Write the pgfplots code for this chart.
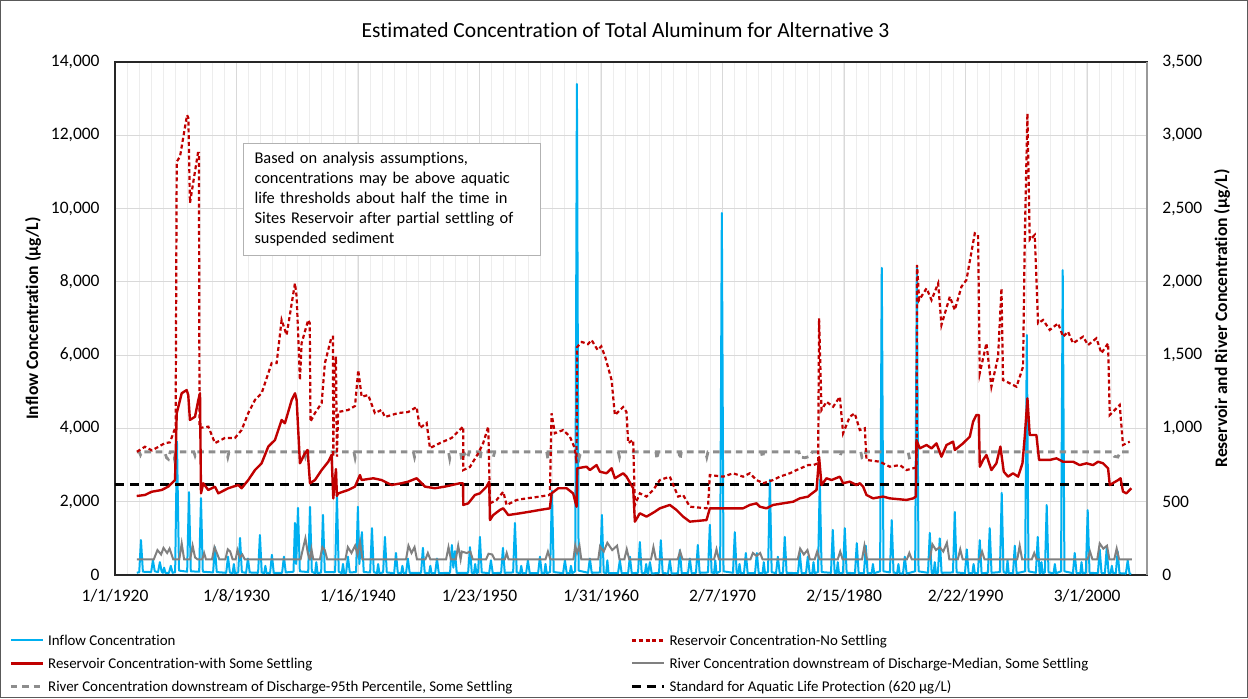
\documentclass[border=0pt]{standalone}
\usepackage{pgfplots}
\pgfplotsset{compat=1.18}
\usepackage{pgfplotstable}
\usepackage{fontspec}
\setmainfont{Carlito}[Ligatures={NoCommon}]
\definecolor{inflowc}{HTML}{00B0F0}
\definecolor{resred}{HTML}{C00000}
\definecolor{rivgray}{HTML}{808080}
\definecolor{gridmaj}{HTML}{D9D9D9}
\definecolor{gridmin}{HTML}{EDEDED}
\tikzset{
  inflowst/.style={inflowc, line width=1pt, line join=round},
  nosetst/.style={resred, line width=1.1pt, dash pattern=on 2pt off 1.4pt},
  setst/.style={resred, line width=1.2pt, line join=round},
  medst/.style={rivgray, line width=1pt},
  p95st/.style={rivgray!90, line width=1.4pt, dash pattern=on 3.3pt off 2.4pt},
  stdst/.style={black, line width=1.6pt, dash pattern=on 4.5pt off 3pt},
}

\pgfplotstableread{
x y
1921.8 60
1922.0 80
1922.14 955
1922.3 90
1922.98 80
1923.13 400
1923.28 100
1923.55 80
1923.7 350
1923.85 90
1923.95 60
1924.05 200
1924.15 60
1924.45 60
1924.6 250
1924.75 60
1924.96 80
1925.11 3650
1925.28 120
1925.95 90
1926.1 2260
1926.25 100
1926.94 90
1927.09 2100
1927.24 90
1928.09 70
1928.24 760
1928.39 80
1929.17 60
1929.32 500
1929.47 70
1929.7 50
1929.8 300
1929.9 50
1930.16 70
1930.31 1010
1930.46 80
1930.81 60
1930.96 450
1931.11 70
1931.8 60
1931.95 1090
1932.1 70
1932.3 50
1932.4 250
1932.5 50
1932.79 60
1932.94 550
1933.09 60
1933.78 60
1933.93 500
1934.08 70
1934.72 90
1934.84 1420
1934.94 300
1935.09 1830
1935.24 100
1935.93 80
1936.08 1860
1936.23 90
1936.5 50
1936.6 350
1936.7 50
1937.0 70
1937.15 1640
1937.3 80
1938.15 80
1938.3 2200
1938.45 90
1938.7 50
1938.8 300
1938.9 50
1939.06 60
1939.21 500
1939.36 70
1939.88 80
1940.03 1860
1940.15 300
1940.36 1170
1940.51 80
1941.04 70
1941.19 1280
1941.34 80
1941.6 50
1941.7 300
1941.8 50
1942.11 70
1942.26 1040
1942.41 70
1943.02 50
1943.17 600
1943.32 60
1943.6 50
1943.7 250
1943.8 50
1944.0 50
1944.15 450
1944.3 60
1945.24 60
1945.39 740
1945.54 60
1945.9 50
1946.0 250
1946.1 50
1946.4 50
1946.55 450
1946.7 50
1947.63 60
1947.78 820
1947.9 200
1948.03 650
1948.18 60
1949.12 60
1949.27 760
1949.42 60
1949.6 50
1949.7 300
1949.8 50
1949.94 70
1950.09 1040
1950.24 70
1950.85 50
1951.0 400
1951.15 50
1951.84 60
1951.99 740
1952.14 60
1952.83 70
1952.98 1420
1953.13 70
1953.4 50
1953.5 250
1953.6 50
1953.9 50
1954.05 400
1954.2 50
1954.89 50
1955.04 500
1955.19 50
1955.4 50
1955.5 300
1955.6 50
1955.88 80
1956.03 2300
1956.18 80
1956.95 50
1957.1 400
1957.25 50
1957.5 50
1957.6 250
1957.7 50
1957.95 100
1958.09 13400
1958.23 120
1959.01 60
1959.16 450
1959.31 60
1960.0 70
1960.15 1640
1960.3 70
1960.5 50
1960.6 400
1960.7 50
1961.48 50
1961.63 400
1961.78 50
1962.31 50
1962.46 500
1962.61 50
1963.13 60
1963.28 900
1963.43 60
1963.7 50
1963.8 300
1963.9 50
1963.96 40
1964.11 350
1964.26 40
1964.86 60
1965.01 950
1965.16 60
1965.6 40
1965.75 400
1965.9 40
1966.43 50
1966.58 680
1966.73 50
1967.25 50
1967.4 450
1967.55 50
1967.91 60
1968.06 820
1968.21 60
1968.9 70
1969.05 1370
1969.2 70
1969.4 50
1969.5 400
1969.6 50
1969.9 100
1970.04 9880
1970.18 100
1970.96 60
1971.11 1170
1971.26 60
1971.4 50
1971.5 300
1971.6 50
1971.87 50
1972.02 600
1972.17 50
1972.78 50
1972.93 600
1973.08 50
1973.4 50
1973.5 350
1973.6 50
1973.85 80
1974.0 2600
1974.15 80
1974.51 50
1974.66 500
1974.81 50
1975.08 60
1975.23 1040
1975.38 60
1976.32 50
1976.47 600
1976.62 50
1976.98 50
1977.13 500
1977.28 50
1977.5 50
1977.6 350
1977.7 50
1977.97 80
1978.12 2600
1978.27 80
1979.04 60
1979.19 1230
1979.34 60
1979.5 50
1979.6 350
1979.7 50
1980.03 60
1980.18 1280
1980.33 60
1981.02 50
1981.17 870
1981.32 50
1981.76 50
1981.91 800
1982.06 50
1982.4 50
1982.5 300
1982.6 50
1983.09 100
1983.23 8380
1983.37 100
1983.9 70
1984.05 1500
1984.2 70
1984.5 50
1984.6 300
1984.7 50
1984.98 40
1985.13 500
1985.28 40
1985.98 100
1986.12 8400
1986.26 100
1987.04 60
1987.19 1150
1987.34 60
1987.5 50
1987.6 350
1987.7 50
1987.86 60
1988.01 1000
1988.16 60
1989.1 70
1989.25 1720
1989.4 70
1990.09 50
1990.24 700
1990.39 50
1990.7 50
1990.8 300
1990.9 50
1991.16 50
1991.31 950
1991.46 50
1991.98 60
1992.13 1280
1992.28 60
1992.97 80
1993.12 2240
1993.27 80
1993.5 50
1993.6 400
1993.7 50
1994.05 50
1994.2 800
1994.35 50
1995.05 100
1995.19 6550
1995.33 100
1995.94 60
1996.09 1040
1996.24 60
1996.3 50
1996.4 350
1996.5 50
1996.68 70
1996.83 1910
1996.98 70
1997.4 50
1997.5 300
1997.6 50
1998.01 100
1998.15 8320
1998.29 100
1998.99 50
1999.14 600
1999.29 50
1999.6 50
1999.7 350
1999.8 50
2000.06 60
2000.21 1770
2000.36 60
2001.05 50
2001.2 700
2001.35 50
2001.63 50
2001.78 750
2001.93 50
2002.1 50
2002.2 250
2002.3 50
2002.53 50
2002.68 650
2002.83 50
2003.36 40
2003.51 400
2003.66 40
2003.8 30
}\inflowdata

\pgfplotstableread{
x y
1921.81 841
1922.47 875
1923.05 850
1924.12 900
1924.53 905
1925.0 1012
1925.09 2820
1925.36 2854
1925.94 3138
1926.05 3120
1926.18 2538
1926.84 2879
1926.92 2879
1926.97 1003
1927.7 1012
1928.24 900
1929.07 935
1929.89 935
1930.44 989
1930.99 1105
1931.54 1194
1932.09 1240
1932.92 1446
1933.33 1446
1933.74 1740
1934.15 1637
1934.84 1990
1934.98 1899
1935.25 1330
1935.39 1582
1935.93 1740
1936.06 1719
1936.12 1046
1936.49 1105
1937.04 1173
1937.31 1446
1937.86 1626
1937.97 1626
1938.0 807
1938.1 1400
1938.22 1489
1938.3 807
1938.4 1112
1939.23 1126
1939.79 1153
1940.06 1398
1940.34 1216
1940.88 1228
1941.43 1105
1941.98 1126
1942.26 1078
1943.36 1105
1944.18 1112
1944.87 1146
1945.14 1003
1945.7 1037
1945.97 866
1946.79 900
1947.76 935
1948.3 980
1948.71 1012
1948.72 716
1949.27 737
1949.95 830
1950.36 900
1950.78 1012
1950.92 489
1951.47 512
1952.02 568
1952.29 477
1953.12 512
1953.94 523
1955.04 535
1955.86 546
1956.0 1103
1956.27 967
1956.96 989
1957.51 944
1957.92 864
1958.06 762
1958.1 1555
1958.5 1590
1959.0 1575
1959.3 1603
1959.8 1535
1960.1 1560
1960.45 1480
1960.95 1330
1961.22 1091
1961.9 1146
1962.18 1112
1962.32 900
1962.73 921
1962.87 477
1963.28 557
1963.83 535
1964.38 580
1964.93 648
1965.75 671
1966.44 535
1966.85 546
1967.4 466
1968.78 455
1968.91 477
1969.05 682
1970.15 671
1970.97 694
1971.8 671
1972.35 694
1972.9 648
1973.45 626
1974.27 648
1974.82 671
1975.65 694
1976.2 716
1977.16 750
1977.57 750
1977.98 762
1978.06 1751
1978.26 1126
1978.67 1182
1979.22 1148
1979.77 1216
1980.04 967
1980.59 1080
1981.0 1103
1981.42 989
1981.83 1001
1981.97 785
1983.07 773
1983.89 739
1984.72 750
1985.27 716
1985.82 728
1986.1 735
1986.14 2115
1986.31 1876
1986.92 1956
1987.33 1876
1987.88 1990
1988.15 1706
1988.84 1899
1989.25 1808
1989.8 1967
1990.21 2013
1990.9 2331
1991.17 2320
1991.31 1376
1991.86 1581
1992.27 1285
1992.82 1489
1993.1 1956
1993.23 1330
1993.78 1308
1994.34 1285
1994.88 1421
1995.02 2286
1995.24 3150
1995.43 2286
1995.84 2320
1996.12 1717
1996.53 1740
1997.08 1672
1997.77 1717
1998.18 1626
1998.59 1660
1999.0 1581
1999.83 1626
2000.24 1569
2000.93 1615
2001.34 1513
2001.89 1581
2002.03 1092
2002.85 1160
2003.12 887
2003.68 910
}\nosetdata

\pgfplotstableread{
x y
1921.79 539
1922.47 546
1923.02 568
1923.85 580
1924.39 603
1924.95 648
1925.09 1103
1925.5 1240
1925.91 1262
1926.04 1228
1926.18 1058
1926.6 1080
1926.87 1194
1927.01 1240
1927.09 557
1927.28 626
1927.69 580
1928.24 603
1928.52 557
1929.34 592
1930.17 614
1930.44 592
1930.99 648
1931.54 716
1932.09 762
1932.64 876
1933.19 921
1933.74 1058
1934.01 1035
1934.57 1194
1934.84 1240
1934.98 1194
1935.25 762
1935.66 830
1935.88 853
1936.08 626
1936.49 648
1937.04 716
1937.59 773
1937.86 819
1938.0 523
1938.22 723
1938.3 540
1938.41 557
1939.23 580
1939.79 603
1940.2 682
1940.34 648
1941.3 660
1941.98 648
1942.8 614
1943.63 626
1944.18 637
1944.87 660
1945.56 603
1946.38 592
1947.2 603
1948.44 626
1948.7 626
1948.72 478
1949.13 489
1949.68 546
1950.09 557
1950.64 603
1950.86 637
1950.92 375
1951.19 409
1951.74 444
1952.02 455
1952.43 409
1953.39 421
1954.21 432
1955.04 444
1955.86 455
1956.0 557
1956.55 592
1957.24 592
1957.78 557
1958.06 466
1958.11 728
1958.88 739
1959.16 716
1959.71 750
1959.98 705
1960.53 694
1960.95 728
1961.22 660
1961.9 694
1962.18 671
1962.73 592
1962.87 364
1963.28 421
1963.83 398
1964.52 432
1964.93 455
1965.75 478
1966.3 444
1966.85 398
1967.4 364
1968.78 375
1969.05 455
1971.8 455
1972.35 478
1972.9 489
1973.17 466
1973.72 455
1974.27 478
1975.09 489
1975.92 500
1976.47 523
1977.16 535
1977.3 546
1977.85 580
1978.06 805
1978.26 614
1978.67 660
1979.09 648
1979.77 671
1980.04 626
1980.59 637
1981.14 614
1981.42 626
1981.69 603
1981.97 546
1982.51 523
1983.34 535
1983.89 523
1985.27 512
1985.82 523
1986.04 535
1986.09 921
1986.36 864
1986.92 887
1987.33 864
1987.74 898
1988.15 807
1988.57 887
1989.11 910
1989.25 853
1989.93 898
1990.21 921
1990.49 944
1990.76 1046
1991.03 1092
1991.23 1092
1991.31 739
1991.58 785
1991.86 819
1992.27 716
1992.68 762
1993.01 876
1993.29 705
1993.64 671
1994.05 694
1994.47 671
1994.83 762
1995.02 944
1995.24 1205
1995.43 955
1995.98 955
1996.2 785
1997.08 785
1997.63 796
1998.18 773
1999.0 773
1999.55 750
2000.11 762
2000.65 750
2001.06 773
2001.48 762
2001.89 728
2002.03 614
2002.72 648
2002.92 660
2003.12 569
2003.4 557
2003.81 592
}\setdata

\pgfplotstableread{
x y
1921.8 107
1923.2 107
1923.5 170
1923.8 140
1924.0 185
1924.3 150
1924.5 180
1924.8 107
1925.3 107
1925.5 215
1925.7 107
1926.2 107
1926.4 200
1926.6 120
1926.8 107
1927.2 107
1927.35 150
1927.5 107
1928.0 107
1928.2 190
1928.4 150
1928.6 107
1929.1 107
1929.3 175
1929.5 160
1929.7 107
1929.95 107
1930.1 170
1930.3 120
1930.5 140
1930.7 107
1935.3 107
1935.5 180
1935.7 250
1935.9 150
1936.05 107
1936.1 107
1936.2 175
1936.35 107
1936.9 107
1937.1 190
1937.3 170
1937.5 107
1939.0 107
1939.2 190
1939.5 150
1939.8 200
1940.0 140
1940.2 230
1940.4 107
1944.0 107
1944.2 200
1944.45 150
1944.7 190
1944.9 107
1945.6 107
1945.8 150
1946.0 107
1947.3 107
1947.5 190
1947.7 107
1948.1 107
1948.3 200
1948.5 107
1948.6 160
1949.0 150
1949.3 160
1949.5 107
1950.6 107
1950.8 145
1951.1 140
1951.3 107
1952.15 107
1952.3 150
1952.45 107
1955.5 107
1955.7 160
1955.9 107
1957.8 107
1957.95 200
1958.1 150
1958.3 200
1958.45 107
1959.85 107
1960.0 195
1960.3 160
1960.6 220
1961.0 170
1961.4 200
1961.6 107
1962.0 107
1962.2 175
1962.4 107
1964.2 107
1964.4 190
1964.6 107
1966.4 107
1966.6 160
1966.8 107
1969.4 107
1969.6 175
1969.8 107
1972.4 107
1972.6 150
1972.9 130
1973.2 150
1973.4 107
1976.3 107
1976.5 180
1976.8 140
1977.1 170
1977.3 107
1977.7 107
1977.9 160
1978.1 107
1979.6 107
1979.8 160
1980.0 107
1981.6 107
1981.8 200
1982.0 107
1985.3 107
1985.5 150
1985.7 107
1987.2 107
1987.4 210
1987.7 170
1988.0 190
1988.3 160
1988.6 220
1988.8 107
1989.5 107
1989.7 175
1989.9 107
1991.3 107
1991.5 160
1991.7 107
1994.4 107
1994.6 200
1994.8 107
1995.6 107
1995.8 150
1996.0 107
2000.2 107
2000.4 160
2000.6 107
2001.0 107
2001.2 215
2001.5 180
2001.8 200
2002.0 107
2002.4 107
2002.6 180
2002.8 107
2003.85 107
}\meddata

\pgfplotstableread{
x y
1921.8 840
1922.0 840
1922.1 820
1922.2 840
1924.1 840
1924.25 800
1924.4 790
1924.55 840
1924.8 840
1924.9 795
1925.0 840
1926.5 840
1926.6 815
1926.7 840
1929.2 840
1929.3 805
1929.4 840
1935.6 840
1935.7 810
1935.8 840
1939.7 840
1939.8 800
1939.9 840
1944.6 840
1944.7 805
1944.8 840
1947.5 840
1947.6 795
1947.7 840
1948.5 840
1948.6 780
1948.8 830
1949.1 800
1949.2 840
1950.0 840
1950.1 790
1950.2 840
1951.1 840
1951.2 805
1951.3 840
1955.6 840
1955.7 790
1955.8 840
1958.2 840
1958.3 805
1958.4 840
1961.5 840
1961.6 805
1961.7 840
1964.6 840
1964.7 790
1964.8 840
1966.5 840
1966.6 790
1966.7 840
1968.7 840
1968.8 805
1968.9 840
1973.3 840
1973.4 800
1973.5 840
1976.4 840
1976.5 805
1976.9 800
1977.3 810
1977.5 840
1979.7 840
1979.8 810
1979.9 840
1981.5 840
1981.6 800
1981.8 805
1981.9 840
1985.4 840
1985.5 800
1985.7 805
1985.8 840
2002.2 840
2002.4 810
2002.7 805
2002.9 840
2003.85 840
}\pdata

\pgfplotstableread{
x y
1920.0 620
2004.0 620
}\stddata

\begin{document}
\begin{tikzpicture}
\path[use as bounding box] (0,0) rectangle (624pt,349pt);
\pgfplotsset{
  commonaxis/.style={
    at={(57.5pt,61.5pt)}, anchor=south west,
    width=516pt, height=256.5pt, scale only axis,
    xmin=1920, xmax=2005.1,
    major tick length=0pt, minor tick length=0pt,
    tick label style={font=\fontsize{8.75}{10}\selectfont, /pgf/number format/assume math mode=true, /pgf/number format/1000 sep={,}},
    scaled y ticks=false,
    legend cell align=left,
    legend image code/.code={\draw[##1] (0pt,0pt) -- (16pt,0pt);},
  },
  legbase/.style={
    draw=none, fill=none, inner sep=0pt, anchor=north west,
    font=\fontsize{7.45}{8}\selectfont,
    nodes={inner xsep=2pt, inner ysep=1.25pt, text height=7pt, text depth=2pt},
    row sep=0pt,
  },
}
\begin{axis}[commonaxis,
  ymin=0, ymax=14000,
  xtick={1920,1930.0205,1940.041,1950.0616,1960.082,1970.1027,1980.123,1990.144,2000.164},
  xticklabels={1/1/1920,1/8/1930,1/16/1940,1/23/1950,1/31/1960,2/7/1970,2/15/1980,2/22/1990,3/1/2000},
  minor xtick={1921.002,1922.004,...,2005},
  ytick={0,2000,...,14000},
  y tick label style={inner sep=0pt, xshift=-7.5pt},
  x tick label style={inner sep=0pt, yshift=-7pt},
  xmajorgrids=true, xminorgrids=true, ymajorgrids=true,
  major grid style={gridmaj, line width=0.5pt},
  minor grid style={gridmin, line width=0.5pt},
  axis line style={black!85, line width=0.6pt},
  legend style={legbase, at={(axis description cs:-0.1027,-0.1043)}},
]
\addplot[inflowst, forget plot] table {\inflowdata};
\addlegendimage{inflowst}
\addlegendentry{Inflow Concentration}
\addlegendimage{setst}
\addlegendentry{Reservoir Concentration-with Some Settling}
\addlegendimage{p95st}
\addlegendentry{River Concentration downstream of Discharge-95th Percentile, Some Settling}
\end{axis}
\begin{axis}[commonaxis,
  ymin=0, ymax=3500,
  axis x line=none, axis y line*=right,
  ytick={0,500,...,3500},
  y tick label style={inner sep=0pt, xshift=7.5pt},
  y axis line style={black!40, line width=0.9pt},
  legend style={legbase, at={(axis description cs:0.499,-0.1043)}},
]
\addplot[stdst, forget plot] table {\stddata};
\addplot[p95st, forget plot] table {\pdata};
\addplot[medst, forget plot] table {\meddata};
\addplot[nosetst, forget plot] table {\nosetdata};
\addplot[setst, forget plot] table {\setdata};
\addlegendimage{nosetst}
\addlegendentry{Reservoir Concentration-No Settling}
\addlegendimage{medst}
\addlegendentry{River Concentration downstream of Discharge-Median, Some Settling}
\addlegendimage{stdst}
\addlegendentry{Standard for Aquatic Life Protection (620 µg/L)}
\end{axis}
\node[font=\fontsize{10.75}{12}\selectfont] at (312.75pt,334pt) {Estimated Concentration of Total Aluminum for Alternative 3};
\node[rotate=90, font=\fontsize{8.8}{10}\selectfont\bfseries] at (16.5pt,189.75pt) {Inflow Concentration (µg/L)};
\node[rotate=90, font=\fontsize{8.8}{10}\selectfont\bfseries] at (611pt,189.75pt) {Reservoir and River Concentration (µg/L)};
\node[draw=black!30, fill=white, line width=0.5pt, anchor=north west, inner xsep=5.5pt, inner ysep=3pt,
  minimum width=148.5pt, minimum height=56pt, text width=137.5pt, align=left,
  font=\fontsize{8.2}{10}\selectfont] at (121.5pt,277.5pt)
  {Based on analysis assumptions,\\concentrations may be above aquatic\\life thresholds about half the time in\\Sites Reservoir after partial settling of\\suspended sediment};
\draw[black!65, line width=0.5pt] (0.25pt,0.25pt) rectangle (623.75pt,348.75pt);
\end{tikzpicture}
\end{document}
